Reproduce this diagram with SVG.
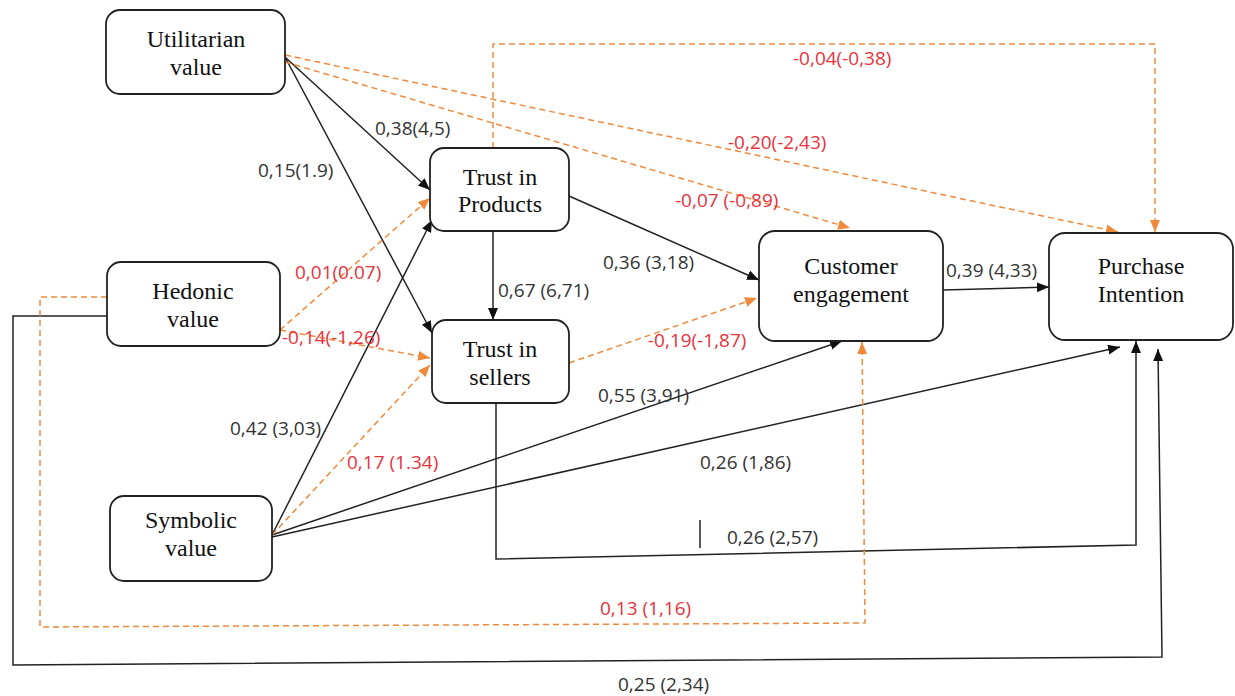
<svg xmlns="http://www.w3.org/2000/svg" width="1235" height="696" viewBox="0 0 1235 696">
<style>
.box{fill:#fff;stroke:#222;stroke-width:1.8}
.nt{font-family:"Liberation Serif",serif;font-size:24px;fill:#111;text-anchor:middle}
.s{fill:none;stroke:#222;stroke-width:1.5}
.d{fill:none;stroke:#ef8a3c;stroke-width:1.5;stroke-dasharray:6,4}
.lb{font-family:"Open Sans",sans-serif;font-size:19px;fill:#333}
.lr{font-family:"Open Sans",sans-serif;font-size:19px;fill:#e8323c}
</style>
<defs>
<marker id="ab" markerUnits="userSpaceOnUse" markerWidth="13" markerHeight="11" refX="12" refY="5" orient="auto"><path d="M0,0 L12,5 L0,10 z" fill="#111"/></marker>
<marker id="ao" markerUnits="userSpaceOnUse" markerWidth="13" markerHeight="11" refX="12" refY="5" orient="auto"><path d="M0,0 L12,5 L0,10 z" fill="#ef8a3c"/></marker>
</defs>
<rect width="1235" height="696" fill="#fff"/>
<g id="connectors">
<path class="s" d="M285,57 L430,190" marker-end="url(#ab)"/>
<path class="s" d="M285,57 L432,333" marker-end="url(#ab)"/>
<path class="s" d="M272,535 L432,220" marker-end="url(#ab)"/>
<path class="s" d="M493,231 L493,320" marker-end="url(#ab)"/>
<path class="s" d="M569,196 L759,280" marker-end="url(#ab)"/>
<path class="s" d="M272,535 L842,341" marker-end="url(#ab)"/>
<path class="s" d="M272,537 L1120,347" marker-end="url(#ab)"/>
<path class="s" d="M496,403 L496,559 L1136,545 L1136,341" marker-end="url(#ab)"/>
<path class="s" d="M943,290 L1049,287" marker-end="url(#ab)"/>
<path class="s" d="M107,316 L13,316 L13,665 L1162,657 L1158,349" marker-end="url(#ab)"/>
<path class="s" d="M700,520 L700,548"/>
<path class="d" d="M285,55 L1118,232" marker-end="url(#ao)"/>
<path class="d" d="M285,62 L850,228" marker-end="url(#ao)"/>
<path class="d" d="M493,148 L493,44 L1155,44 L1155,232" marker-end="url(#ao)"/>
<path class="d" d="M280,330 L430,198" marker-end="url(#ao)"/>
<path class="d" d="M280,330 L430,358" marker-end="url(#ao)"/>
<path class="d" d="M272,535 L430,365" marker-end="url(#ao)"/>
<path class="d" d="M569,363 L757,298" marker-end="url(#ao)"/>
<path class="d" d="M107,297 L40,297 L40,627 L865,623 L862,342" marker-end="url(#ao)"/>
</g>
<g id="labels">
<text class="lb" x="375" y="135">0,38(4,5)</text>
<text class="lb" x="258" y="177">0,15(1.9)</text>
<text class="lb" x="230" y="435">0,42 (3,03)</text>
<text class="lb" x="498" y="297">0,67 (6,71)</text>
<text class="lb" x="603" y="269">0,36 (3,18)</text>
<text class="lb" x="598" y="402">0,55 (3,91)</text>
<text class="lb" x="700" y="469">0,26 (1,86)</text>
<text class="lb" x="727" y="544">0,26 (2,57)</text>
<text class="lb" x="946" y="277">0,39 (4,33)</text>
<text class="lb" x="618" y="691">0,25 (2,34)</text>
<text class="lr" x="793" y="65">-0,04(-0,38)</text>
<text class="lr" x="728" y="149">-0,20(-2,43)</text>
<text class="lr" x="675" y="207">-0,07 (-0,89)</text>
<text class="lr" x="295" y="279">0,01(0.07)</text>
<text class="lr" x="282" y="344">-0,14(-1,26)</text>
<text class="lr" x="347" y="469">0,17 (1.34)</text>
<text class="lr" x="648" y="347">-0,19(-1,87)</text>
<text class="lr" x="600" y="615">0,13 (1,16)</text>
</g>
<g id="utilitarian"><rect class="box" x="106" y="10" width="179" height="84" rx="14"/><text class="nt" x="196" y="47">Utilitarian</text><text class="nt" x="196" y="75">value</text></g>
<g id="trust-products"><rect class="box" x="430" y="148" width="139" height="83" rx="14"/><text class="nt" x="500" y="185">Trust in</text><text class="nt" x="500" y="212">Products</text></g>
<g id="hedonic"><rect class="box" x="107" y="262" width="173" height="84" rx="14"/><text class="nt" x="193" y="299">Hedonic</text><text class="nt" x="193" y="327">value</text></g>
<g id="trust-sellers"><rect class="box" x="432" y="320" width="137" height="83" rx="14"/><text class="nt" x="500" y="357">Trust in</text><text class="nt" x="500" y="385">sellers</text></g>
<g id="engagement"><rect class="box" x="759" y="231" width="184" height="110" rx="16"/><text class="nt" x="851" y="274">Customer</text><text class="nt" x="851" y="302">engagement</text></g>
<g id="purchase"><rect class="box" x="1049" y="233" width="184" height="107" rx="16"/><text class="nt" x="1141" y="274">Purchase</text><text class="nt" x="1141" y="302">Intention</text></g>
<g id="symbolic"><rect class="box" x="110" y="496" width="162" height="85" rx="14"/><text class="nt" x="191" y="528">Symbolic</text><text class="nt" x="191" y="556">value</text></g>
</svg>
